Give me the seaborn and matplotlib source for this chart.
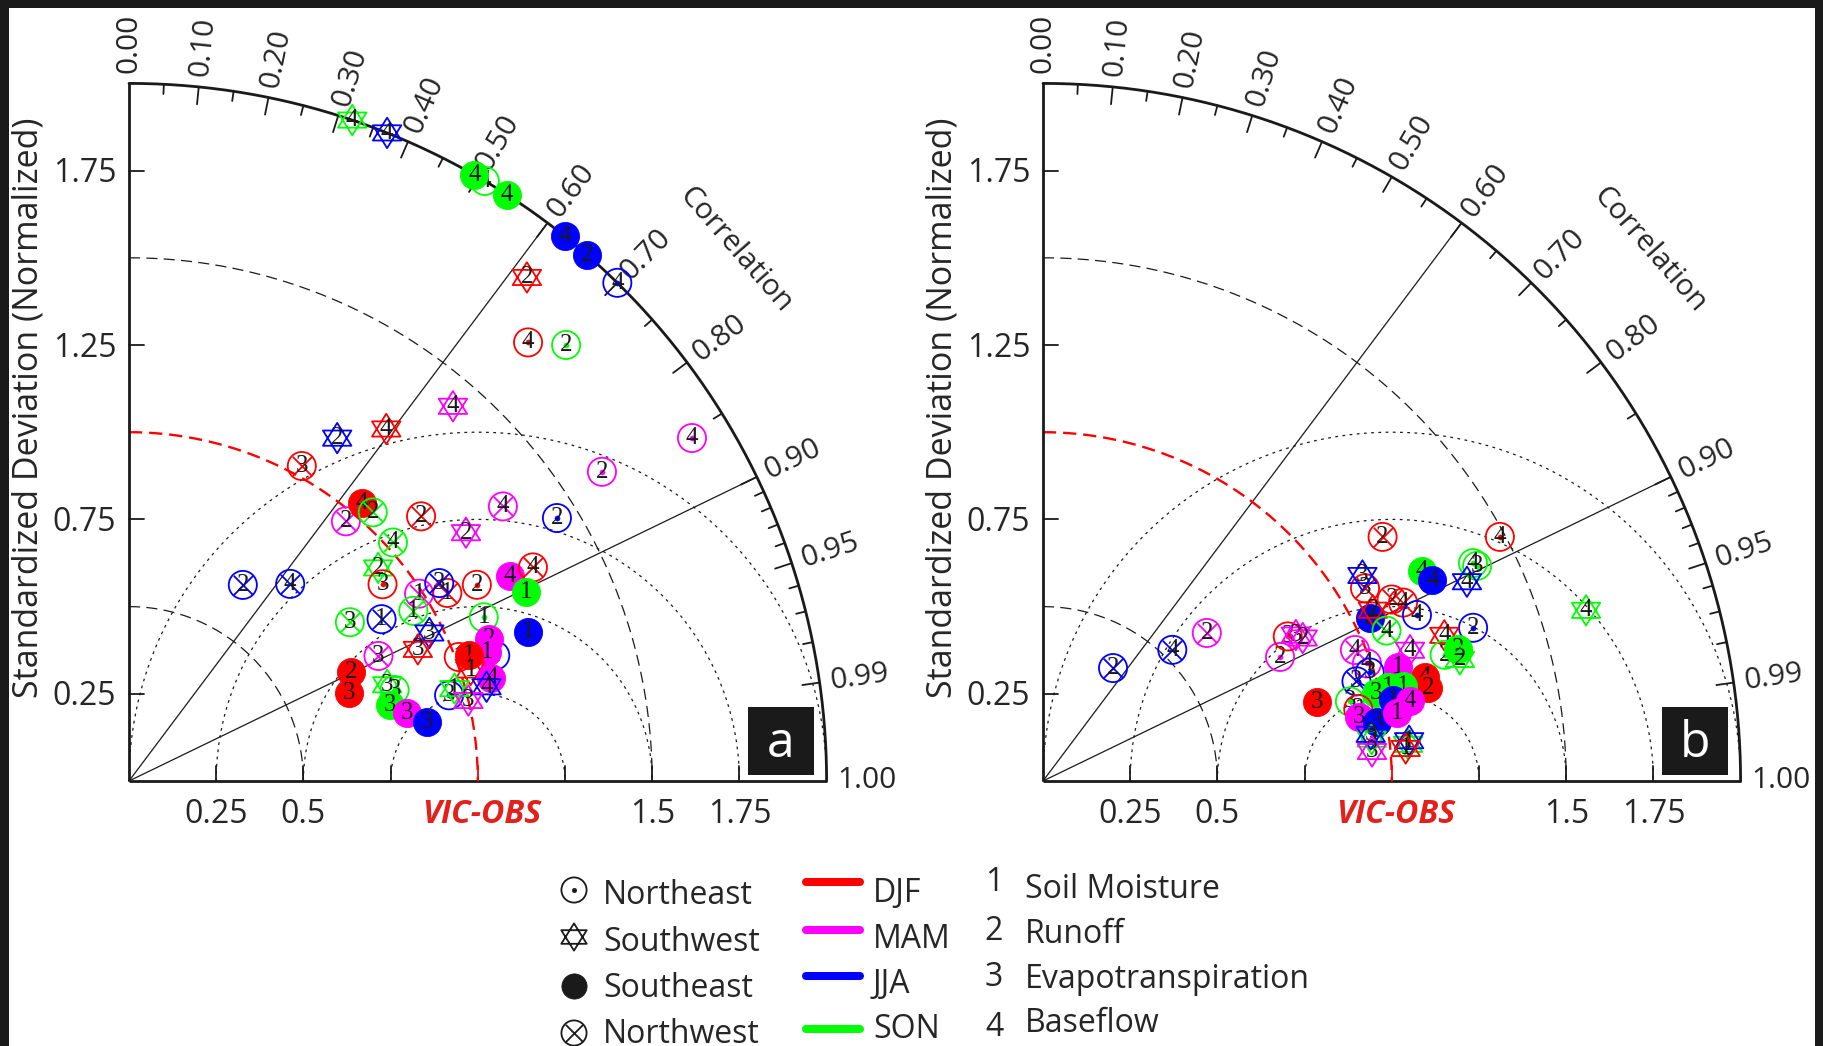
import numpy as np
import matplotlib
matplotlib.use("Agg")
import matplotlib.pyplot as plt
from matplotlib.path import Path
from matplotlib.patches import Rectangle
import seaborn as sns

# ------------------------------------------------------------------ data
season_names = ["DJF", "MAM", "JJA", "SON"]
season_colors = ["#ff0000", "#ff00ff", "#0000ff", "#00ff00"]
region_codes = ["NE", "SW", "SE", "NW"]
region_names = ["Northeast", "Southwest", "Southeast", "Northwest"]
variable_names = ["Soil Moisture", "Runoff", "Evapotranspiration", "Baseflow"]

corr_tick_values = [0.0, 0.1, 0.2, 0.3, 0.4, 0.5, 0.6, 0.7, 0.8, 0.9, 0.95, 0.99, 1.0]
std_tick_values = [0.25, 0.75, 1.25, 1.75]
x_tick_values = [0.25, 0.5, 1.5, 1.75]

# Panel a: VIC vs observations
a_region = ["SW", "SW", "NE", "SE", "SE", "SE", "SE", "NE", "SW", "NE",
            "NE", "NE", "NE", "SW", "SW", "SW", "NW", "NW", "SE", "NW",
            "NW", "NW", "NE", "SW", "NW", "SW", "NE", "NW", "NW", "NW",
            "NW", "NW", "NE", "SE", "NW", "SE", "NE", "SE", "NW", "NW",
            "NW", "SW", "SW", "NW", "NE", "SE", "SE", "NE", "SE", "SW",
            "SE", "SW", "NE", "SW", "SW", "SE", "SE", "SW", "NE", "SE",
            "SE", "SE"]
a_season = ["SON", "JJA", "SON", "SON", "SON", "JJA", "JJA", "JJA", "DJF", "DJF",
            "SON", "MAM", "MAM", "MAM", "DJF", "JJA", "DJF", "MAM", "DJF", "SON",
            "DJF", "MAM", "JJA", "MAM", "SON", "SON", "DJF", "JJA", "JJA", "MAM",
            "DJF", "JJA", "DJF", "MAM", "DJF", "SON", "SON", "JJA", "SON", "JJA",
            "SON", "JJA", "DJF", "MAM", "JJA", "MAM", "MAM", "DJF", "DJF", "DJF",
            "MAM", "JJA", "JJA", "SON", "MAM", "DJF", "DJF", "SON", "SON", "SON",
            "MAM", "JJA"]
a_variable = [4, 4, 4, 4, 4, 4, 2, 4, 2, 4,
              2, 4, 2, 4, 4, 2, 3, 2, 4, 2,
              2, 4, 2, 2, 4, 2, 3, 2, 4, 1,
              1, 3, 2, 4, 4, 1, 1, 1, 1, 1,
              3, 3, 3, 3, 1, 2, 1, 1, 1, 1,
              4, 4, 3, 1, 3, 2, 3, 3, 3, 3,
              3, 3]
a_std = [2.00, 2.00, 2.00, 2.00, 2.00, 2.00, 2.00, 2.00, 1.84, 1.70,
         1.77, 1.89, 1.62, 1.42, 1.25, 1.15, 1.03, 0.97, 1.04, 1.04,
         1.13, 1.33, 1.44, 1.20, 1.02, 0.94, 0.92, 0.65, 0.73, 0.99,
         1.06, 1.055, 1.145, 1.24, 1.31, 1.26, 1.12, 1.22, 0.95, 0.86,
         0.78, 0.96, 0.91, 0.80, 1.11, 1.11, 1.09, 1.01, 1.04, 1.03,
         1.08, 1.06, 0.95, 0.97, 1.00, 0.71, 0.68, 0.79, 0.805, 0.78,
         0.82, 0.87]
a_corr = [0.320, 0.370, 0.510, 0.495, 0.542, 0.625, 0.657, 0.700, 0.620, 0.673,
          0.708, 0.854, 0.837, 0.654, 0.590, 0.519, 0.481, 0.641, 0.642, 0.672,
          0.741, 0.806, 0.852, 0.805, 0.742, 0.760, 0.790, 0.502, 0.633, 0.840,
          0.861, 0.843, 0.871, 0.881, 0.884, 0.903, 0.908, 0.937, 0.858, 0.842,
          0.812, 0.897, 0.910, 0.894, 0.946, 0.930, 0.941, 0.936, 0.938, 0.951,
          0.962, 0.967, 0.966, 0.962, 0.973, 0.898, 0.928, 0.937, 0.946, 0.960,
          0.971, 0.981]

# Panel b
b_region = ["NW", "NW", "NW", "NE", "NE", "SW", "SW", "SE", "NW", "NE",
            "NE", "NE", "SE", "SE", "SW", "NW", "SW", "NW", "NW", "SE",
            "SW", "NE", "NW", "NE", "SW", "SW", "NE", "SE", "SW", "NW",
            "NE", "SW", "NW", "NE", "SE", "SE", "SE", "SE", "SE", "SE",
            "SE", "SE", "NE", "NE", "SE", "SE", "SE", "SW", "SW", "SW",
            "SW", "SW", "SW"]
b_season = ["JJA", "JJA", "MAM", "MAM", "DJF", "MAM", "MAM", "DJF", "DJF", "DJF",
            "SON", "SON", "SON", "JJA", "JJA", "DJF", "JJA", "DJF", "DJF", "JJA",
            "DJF", "JJA", "SON", "JJA", "DJF", "SON", "SON", "SON", "SON", "MAM",
            "MAM", "MAM", "JJA", "JJA", "MAM", "DJF", "DJF", "SON", "SON", "SON",
            "JJA", "MAM", "SON", "DJF", "MAM", "JJA", "MAM", "SON", "JJA", "MAM",
            "SON", "JJA", "DJF"]
b_variable = [2, 4, 2, 2, 3, 3, 2, 3, 2, 4,
              3, 4, 4, 4, 4, 3, 3, 2, 4, 2,
              2, 4, 4, 2, 4, 4, 2, 2, 2, 4,
              4, 4, 3, 3, 1, 4, 2, 1, 1, 3,
              1, 4, 3, 3, 3, 3, 1, 3, 3, 3,
              1, 1, 1]
b_std = [0.381, 0.528, 0.633, 0.767, 0.815, 0.837, 0.850, 0.817, 1.199, 1.485,
         1.389, 1.382, 1.241, 1.256, 1.343, 1.076, 1.089, 1.127, 1.152, 1.047,
         1.065, 1.173, 1.075, 1.309, 1.224, 1.632, 1.207, 1.249, 1.245, 0.970,
         0.988, 1.117, 0.943, 0.987, 1.069, 1.135, 1.136, 1.067, 1.025, 0.987,
         1.030, 1.077, 0.909, 0.927, 0.923, 0.972, 1.033, 0.950, 0.949, 0.947,
         1.052, 1.056, 1.044]
b_corr = [0.527, 0.702, 0.742, 0.886, 0.861, 0.866, 0.876, 0.961, 0.812, 0.882,
          0.896, 0.892, 0.875, 0.889, 0.905, 0.858, 0.841, 0.887, 0.896, 0.895,
          0.888, 0.914, 0.916, 0.942, 0.940, 0.954, 0.954, 0.953, 0.960, 0.922,
          0.940, 0.942, 0.953, 0.949, 0.952, 0.965, 0.972, 0.967, 0.965, 0.967,
          0.974, 0.977, 0.968, 0.975, 0.980, 0.985, 0.982, 0.992, 0.990, 0.996,
          0.995, 0.994, 0.996]

# ------------------------------------------------------------------ style
sns.set_theme(style="white")
plt.rcParams["font.family"] = ["Open Sans", "DejaVu Sans"]
plt.rcParams["lines.scale_dashes"] = False

PX, PY = 1823, 1046
UNIT = 348.8            # pixels per normalized standard deviation
ORIGIN_Y = 781
color_of = dict(zip(season_names, season_colors))

TXT = 23                # main label size (pt)
S_CIRC = 410            # circle marker area (pt^2)
S_HEX = 480
S_CROSS = 195
LW_MK = 1.3


def hexagram():
    up = np.deg2rad([90, 210, 330])
    dn = np.deg2rad([270, 30, 150])
    verts, codes = [], []
    for ang in (up, dn):
        pts = np.column_stack([1.08 * np.cos(ang), np.sin(ang)])
        verts += [tuple(p) for p in pts] + [tuple(pts[0])]
        codes += [Path.MOVETO, Path.LINETO, Path.LINETO, Path.CLOSEPOLY]
    return Path(verts, codes)


HEX = hexagram()


def marker(ax, x, y, region, col, z, s_scale=1.0):
    """Draw one region glyph (circle-dot, hexagram, disc, circle-cross)."""
    common = dict(ax=ax, legend=False, clip_on=False, zorder=z)
    if region == "SE":
        sns.scatterplot(x=[x], y=[y], marker="o", s=S_CIRC * s_scale,
                        color=col, edgecolor=col, linewidth=0.6, **common)
    elif region == "SW":
        sns.scatterplot(x=[x], y=[y], marker=HEX, s=S_HEX * s_scale,
                        facecolors="none", edgecolor=col, linewidth=LW_MK, **common)
    else:
        sns.scatterplot(x=[x], y=[y], marker="o", s=S_CIRC * s_scale,
                        facecolors="none", edgecolor=col, linewidth=LW_MK, **common)
        if region == "NE":
            sns.scatterplot(x=[x], y=[y], marker="o", s=14 * s_scale,
                            color=col, edgecolor=col, linewidth=0.3, **common)
        else:
            sns.scatterplot(x=[x], y=[y], marker="x", s=S_CROSS * s_scale,
                            color=col, linewidth=LW_MK, **common)


def draw_frame(ax, letter):
    ax.set_xlim(0, 2)
    ax.set_ylim(0, 2)
    ax.axis("off")
    kw = dict(clip_on=False)
    # centred RMS-difference arcs around the reference point
    t = np.linspace(np.pi, 0, 400)
    for r in [0.25, 0.5, 0.75, 1.0]:
        ax.plot(1 + r * np.cos(t), r * np.sin(t), color="k", lw=0.9,
                dashes=(2.0, 3.2), zorder=2, **kw)
    # standard deviation arcs
    q = np.linspace(np.pi / 2, 0, 400)
    for r in [0.5, 1.5]:
        ax.plot(r * np.cos(q), r * np.sin(q), color="k", lw=0.9,
                dashes=(8, 4.5), zorder=2, **kw)
    ax.plot(np.cos(q), np.sin(q), color="#ff0000", lw=1.7, dashes=(9.5, 5),
            zorder=3, **kw)
    # outer boundary and axes
    ax.plot(2 * np.cos(q), 2 * np.sin(q), color="k", lw=2.0, zorder=4, **kw)
    ax.plot([0, 2], [0, 0], color="k", lw=2.0, zorder=4, solid_capstyle="butt", **kw)
    ax.plot([0, 0], [0, 2], color="k", lw=2.0, zorder=4, solid_capstyle="butt", **kw)
    for c in [0.6, 0.9]:
        th = np.arccos(c)
        ax.plot([0, 2 * np.cos(th)], [0, 2 * np.sin(th)], color="k", lw=0.9,
                zorder=2, **kw)
    # ticks on the correlation arc
    major = [0.1, 0.2, 0.3, 0.4, 0.5, 0.6, 0.7, 0.8, 0.9, 0.95, 0.99]
    minor = [0.05, 0.15, 0.25, 0.35, 0.45, 0.55, 0.65, 0.75, 0.85,
             0.91, 0.92, 0.93, 0.94, 0.96, 0.97, 0.98]
    for vals, ln in ((major, 0.05), (minor, 0.028)):
        for c in vals:
            th = np.arccos(c)
            ax.plot([2 * np.cos(th), (2 - ln) * np.cos(th)],
                    [2 * np.sin(th), (2 - ln) * np.sin(th)],
                    color="k", lw=1.3, zorder=4, **kw)
    # correlation labels
    for c in corr_tick_values:
        th = np.arccos(c)
        r = 2.115
        ax.text(r * np.cos(th), r * np.sin(th), f"{c:.2f}", rotation=np.degrees(th),
                rotation_mode="anchor", ha="center", va="center", fontsize=21.5)
    ax.text(2.31 * np.cos(np.radians(41.2)), 2.31 * np.sin(np.radians(41.2)),
            "Correlation", rotation=-48.8, rotation_mode="anchor",
            ha="center", va="center", fontsize=21.5)
    # std axis ticks and labels
    for v in std_tick_values:
        ax.plot([0, 0.042], [v, v], color="k", lw=1.3, zorder=4, **kw)
        ax.text(-0.037, v - 0.033, f"{v:.2f}", ha="right", va="baseline", fontsize=TXT)
    for v in [0.25, 0.5, 0.75, 1.0, 1.25, 1.5, 1.75]:
        ax.plot([v, v], [0, 0.042], color="#ff0000" if v == 1.0 else "k",
                lw=1.3, zorder=4, **kw)
    for v in x_tick_values:
        ax.text(v, -0.1204, f"{v:g}", ha="center", va="baseline", fontsize=TXT)
    ax.text(1.01, -0.1204, "VIC-OBS", ha="center", va="baseline", fontsize=TXT,
            color="#e3201b", fontstyle="italic", fontweight="bold")
    ax.text(-0.287, 1.069, "Standardized Deviation (Normalized)", rotation=90,
            ha="center", va="center", fontsize=24.5)
    # panel tag
    ax.add_patch(Rectangle((1.775, 0.018), 0.188, 0.195, facecolor="k",
                           edgecolor="none", zorder=5, clip_on=False))
    ax.text(1.869, 0.105, letter, color="white", ha="center", va="center",
            fontsize=36, zorder=6)


def draw_points(ax, regions, seasons, variables, stds, corrs):
    for i, (rg, ss, vv, sd, cc) in enumerate(zip(regions, seasons, variables, stds, corrs)):
        th = np.arccos(cc)
        x, y = sd * np.cos(th), sd * np.sin(th)
        z = 10 + i * 0.01
        marker(ax, x, y, rg, color_of[ss], z)
        ax.text(x, y, str(vv), ha="center", va="center", fontsize=18,
                family=["Liberation Serif", "DejaVu Serif"], color="k",
                zorder=z + 0.005)
    ax.set_xlim(0, 2)
    ax.set_ylim(0, 2)


fig = plt.figure(figsize=(PX / 100, PY / 100), dpi=100)
fig.patch.set_facecolor("white")

panels = [(129, "a", a_region, a_season, a_variable, a_std, a_corr),
          (1043, "b", b_region, b_season, b_variable, b_std, b_corr)]
for ox, letter, rg, ss, vv, sd, cc in panels:
    ax = fig.add_axes([ox / PX, 1 - ORIGIN_Y / PY, 2 * UNIT / PX, 2 * UNIT / PY])
    draw_frame(ax, letter)
    draw_points(ax, rg, ss, vv, sd, cc)

# ------------------------------------------------------------------ legend + frame
lax = fig.add_axes([0, 0, 1, 1], zorder=-1)
lax.set_xlim(0, PX)
lax.set_ylim(PY, 0)
lax.axis("off")

mk_y = [890, 937, 986, 1033]
rg_base = [904, 951, 997, 1043]
for code, name, my, by in zip(region_codes, region_names, mk_y, rg_base):
    marker(lax, 574, my, code, "k", 5, s_scale=0.8)
    lax.text(603, by, name, ha="left", va="baseline", fontsize=TXT)

line_y = [882, 930, 976, 1029]
ss_base = [902, 948, 993, 1038]
for name, col, ly, by in zip(season_names, season_colors, line_y, ss_base):
    sns.lineplot(x=[806, 860], y=[ly, ly], color=col, linewidth=5.8,
                 solid_capstyle="round", ax=lax, legend=False)
    lax.text(873, by, name, ha="left", va="baseline", fontsize=TXT)

num_base = [891, 940, 986, 1036]
var_base = [898, 943, 988, 1032]
for k, (name, nb, vb) in enumerate(zip(variable_names, num_base, var_base)):
    lax.text(994, nb, str(k + 1), ha="center", va="baseline", fontsize=TXT)
    lax.text(1025, vb, name, ha="left", va="baseline", fontsize=TXT)

lax.set_xlim(0, PX)
lax.set_ylim(PY, 0)
lax.set_xlabel("")
lax.set_ylabel("")

# dark border along top, left and right edges
for rect in [(0, 0, PX, 8), (0, 0, 9, PY), (PX - 8, 0, 8, PY)]:
    fig.add_artist(Rectangle((rect[0] / PX, 1 - (rect[1] + rect[3]) / PY),
                             rect[2] / PX, rect[3] / PY, transform=fig.transFigure,
                             facecolor="k", edgecolor="none", zorder=50))

fig.savefig("out.png", dpi=100, facecolor="white")
